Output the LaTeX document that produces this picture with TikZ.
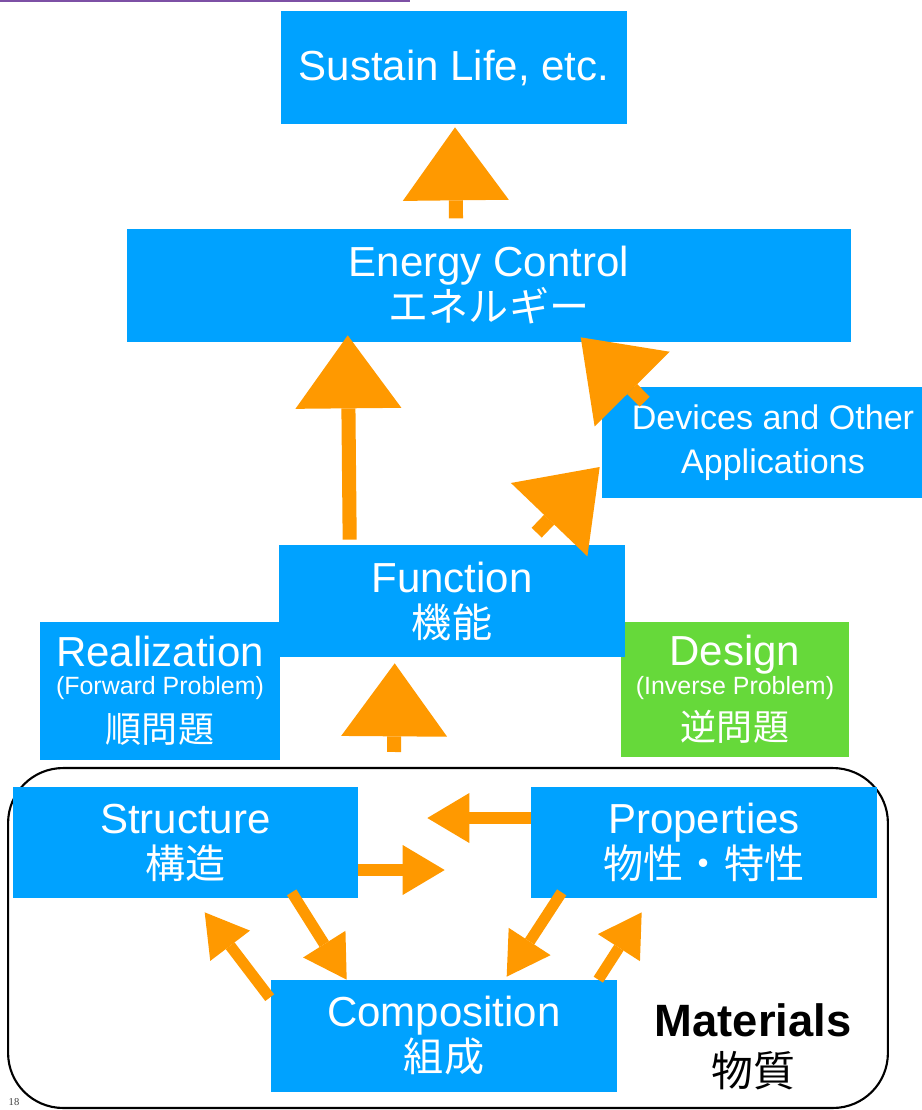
\documentclass[tikz,border=0pt]{standalone}
\usepackage{fontspec}
\setmainfont{Liberation Sans}
\newfontfamily\cjk{Noto Sans CJK JP}
\newfontfamily\pagenum{Liberation Serif}
\usetikzlibrary{arrows.meta,calc}

\definecolor{skyblue}{RGB}{0,162,255}
\definecolor{leafgreen}{RGB}{102,217,58}
\definecolor{chalkorange}{RGB}{255,153,0}
\definecolor{slidepurple}{RGB}{125,80,165}

\newcommand{\enline}{\rmfamily\fontsize{23.9}{25.6}\selectfont}
\newcommand{\jpline}{\cjk\fontsize{22.8}{25.6}\selectfont}
\newcommand{\devline}{\rmfamily\fontsize{19.4}{25}\selectfont}

\tikzset{
  box/.style={fill=skyblue, text=white, inner sep=0pt, align=center, font=\enline},
  frame/.style={draw=black, line width=1.2pt, rounded corners=1.1cm, inner sep=0pt,
    minimum width=17.6cm, minimum height=6.8cm},
  bigarrow/.style={draw=chalkorange, line width=8pt,
    -{Triangle[length=1.46cm, width=2.12cm, line width=0pt]}},
  smallarrow/.style={draw=chalkorange, line width=6.3pt,
    -{Triangle[length=0.84cm, width=1.0cm, line width=0pt]}},
}

\begin{document}
\begin{tikzpicture}[x=0.02cm, y=-0.02cm]
  \useasboundingbox (0,0) rectangle (922,1110);

  % Slide rule
  \draw[slidepurple, line width=1.4pt] (0,1) -- (410,1);

  % Upper boxes
  \node[box, minimum width=6.92cm, minimum height=2.26cm] (S) at (454,67.5)
    {Sustain Life, etc.};
  \node[box, minimum width=14.48cm, minimum height=2.26cm] (E) at (489,285.5)
    {Energy Control\\\jpline エネルギー};
  \node[box, font=\devline, minimum width=6.84cm, minimum height=2.22cm] (D) at (773,442.5)
    {Devices and Other\\Applications};
  \node[box, font=\rmfamily\fontsize{23.9}{16}\selectfont, minimum width=4.8cm, minimum height=2.76cm] (R) at (160,691)
    {Realization\\\fontsize{14.2}{16}\selectfont(Forward Problem)\\[6.6pt]\cjk\fontsize{20.5}{16}\selectfont 順問題};
  \node[box, fill=leafgreen, font=\rmfamily\fontsize{23.9}{16.5}\selectfont, minimum width=4.56cm, minimum height=2.7cm] (G) at (735,689.5)
    {Design\\\fontsize{14.2}{16.5}\selectfont(Inverse Problem)\\[5pt]\cjk\fontsize{20.5}{16.5}\selectfont 逆問題};
  \node[box, minimum width=6.92cm, minimum height=2.24cm] (F) at (452,601)
    {Function\\\jpline 機能};

  % Materials
  \node[frame] (M) at (448,938) {};
  \node[box, minimum width=6.9cm, minimum height=2.22cm] (T) at (185.5,842.5)
    {Structure\\\jpline 構造};
  \node[box, minimum width=6.92cm, minimum height=2.22cm] (P) at (704,842.5)
    {Properties\\\jpline 物性・特性};
  \node[box, minimum width=6.92cm, minimum height=2.24cm] (C) at (444,1036)
    {Composition\\\jpline 組成};
  \node[align=center, inner sep=0pt, font=\bfseries\fontsize{25.8}{28.5}\selectfont] (L) at (753,1047)
    {Materials\\\cjk\mdseries\fontsize{23.8}{28.5}\selectfont 物質};
  \node[inner sep=0pt, text=darkgray, font=\pagenum\fontsize{6}{6}\selectfont] (N) at (14,1102) {18};

  % Arrows up
  \draw[bigarrow] ($(S.south)+(2,94)$) -- ($(S.south)+(1,3)$);
  \draw[bigarrow] ($(F.north west)+(71,-5)$) -- ($(E.south west)+(221,-7)$);
  \draw[bigarrow] ($(D.north west)+(43,15)$) -- ($(E.south west)+(454,-5)$);
  \draw[bigarrow] ($(F.north west)+(258,-12)$) -- ($(D.west)+(-2,24.5)$);
  \draw[bigarrow] ($(M.north west)+(387,-15)$) -- ($(F.south west)+(116,6)$);

  % Arrows inside materials
  \draw[smallarrow] ($(P.west)+(0,-24.5)$) -- ($(T.east)+(69,-24.5)$);
  \draw[smallarrow] ($(T.east)+(0,27.5)$) -- ($(P.west)+(-86,27.5)$);
  \draw[smallarrow] ($(C.north west)+(-1,18)$) -- ($(T.south west)+(192,14)$);
  \draw[smallarrow] ($(T.south west)+(279,-6)$) -- ($(C.north west)+(76,0)$);
  \draw[smallarrow] ($(P.south west)+(31,-6)$) -- ($(C.north west)+(236,-3)$);
  \draw[smallarrow] ($(C.north east)+(-19,0)$) -- ($(P.south west)+(111,14)$);
\end{tikzpicture}
\end{document}
